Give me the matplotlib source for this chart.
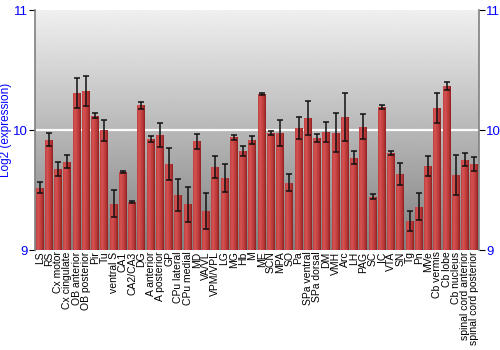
import numpy as np
import matplotlib
matplotlib.use("Agg")
import matplotlib.pyplot as plt
from matplotlib.colors import LinearSegmentedColormap

regions = ["LS", "RS", "Cx motor", "Cx cingulate", "OB anterior", "OB posterior", "Pir", "Tu",
           "ventral S", "CA1", "CA2/CA3", "DG", "A anterior", "A posterior", "GP", "CPu lateral",
           "CPu medial", "MD", "VA/VL", "VPM/VPL", "LG", "MG", "Hb", "M", "ME", "SCN", "MPA", "SO",
           "Pa", "SPa ventral", "SPa dorsal", "DM", "VMH", "Arc", "LH", "PAG", "SC", "IC", "VTA",
           "SN", "Tg", "Pn", "MVe", "Cb vermis", "Cb lobe", "Cb nucleus", "spinal cord anterior",
           "spinal cord posterior"]
expression = [9.52, 9.92, 9.675, 9.735, 10.305, 10.325, 10.12, 9.997,
              9.386, 9.65, 9.40, 10.206, 9.925, 9.962, 9.717, 9.458,
              9.381, 9.905, 9.325, 9.692, 9.60, 9.939, 9.828, 9.917, 10.30, 9.975, 9.975, 9.561,
              10.014, 10.10, 9.933, 9.983, 9.978, 10.108, 9.769, 10.028, 9.444, 10.192, 9.811,
              9.633, 9.239, 9.361, 9.70, 10.186, 10.367, 9.625, 9.753,
              9.717]
errors = [0.045, 0.055, 0.06, 0.055, 0.125, 0.125, 0.02, 0.085,
          0.11, 0.008, 0.01, 0.03, 0.025, 0.10, 0.13, 0.13,
          0.145, 0.063, 0.15, 0.093, 0.118, 0.02, 0.042, 0.033, 0.01, 0.017, 0.11, 0.07,
          0.093, 0.14, 0.036, 0.087, 0.16, 0.20, 0.055, 0.103, 0.022, 0.014, 0.018,
          0.093, 0.082, 0.11, 0.083, 0.126, 0.036, 0.163, 0.057,
          0.055]
y_ticks = [9, 10, 11]

plt.rcParams['font.family'] = ['Liberation Sans', 'DejaVu Sans']

fig = plt.figure(figsize=(5, 3.5), dpi=100)
ax = fig.add_axes([0.07, 0.2857, 0.888, 0.6857])

n = len(regions)
x = np.arange(n)
ax.set_xlim(-0.5, n - 0.5)
ax.set_ylim(9, 11)

# background gradient
bg = np.linspace(0.94, 0.50, 256).reshape(-1, 1)
ax.imshow(bg, cmap='gray', vmin=0, vmax=1, aspect='auto',
          extent=(-0.5, n - 0.5, 9, 11), origin='upper', zorder=0)

ax.axhline(10, color='white', lw=1.6, zorder=1, alpha=0.95)

bar_cmap = LinearSegmentedColormap.from_list(
    'barg', ['#bf3e3e', '#d65454', '#c84444', '#b83636', '#8c2020'])
grad = np.linspace(0, 1, 64).reshape(1, -1)
width = 0.86
bars = ax.bar(x, np.array(expression) - 9, bottom=9, width=width,
              color='#c04040', edgecolor='none', zorder=2)
for b in bars:
    im = ax.imshow(grad, cmap=bar_cmap, aspect='auto',
                   extent=(b.get_x(), b.get_x() + b.get_width(), 9, 9 + b.get_height()),
                   zorder=2.5)
    im.set_clip_path(b)

ax.errorbar(x, expression, yerr=errors, fmt='none', ecolor='#111111',
            elinewidth=1.1, capsize=2.5, capthick=1.1, zorder=3)

ax.set_xticks(x)
ax.set_xticklabels(regions, rotation=90, fontsize=7.5)
ax.tick_params(axis='x', length=0, pad=1)

ax.set_yticks(y_ticks)
ax.set_yticklabels([str(t) for t in y_ticks], color='#0000ff', fontsize=9.5)
ax.tick_params(axis='y', direction='out', length=4, color='black',
               left=True, right=True, labelleft=True, labelright=True, pad=1)
ax.set_ylabel('Log2 (expression)', color='#0000ff', fontsize=8.5, labelpad=1)

for s in ['top', 'bottom']:
    ax.spines[s].set_visible(False)
for s in ['left', 'right']:
    ax.spines[s].set_color('#808080')
    ax.spines[s].set_linewidth(1.2)

fig.savefig('out.png', dpi=100)
